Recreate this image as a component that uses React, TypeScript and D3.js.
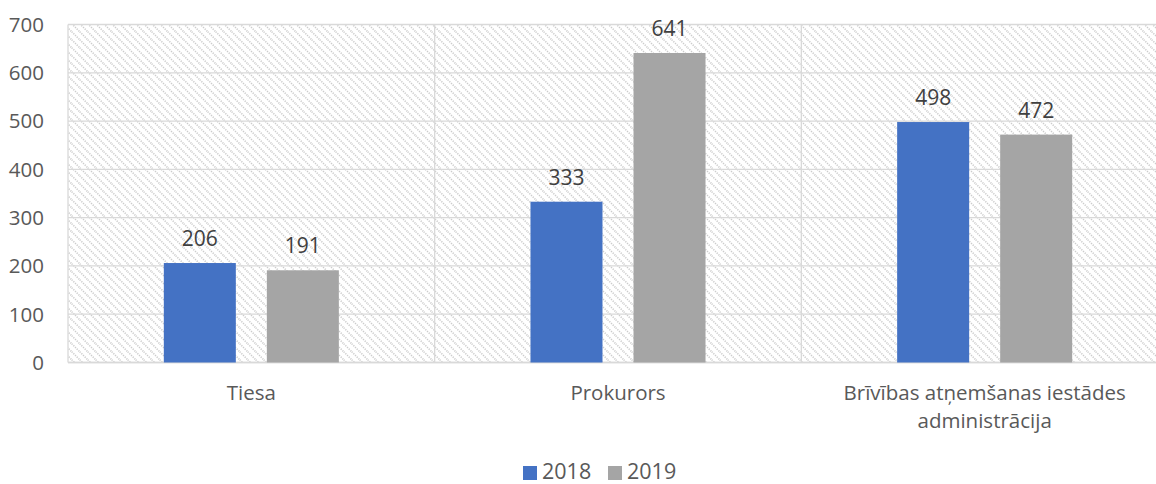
import React from "react";
import * as d3 from "d3";

const categories: string[][] = [["Tiesa"], ["Prokurors"], ["Brīvības atņemšanas iestādes", "administrācija"]];
const categoryKeys = ["Tiesa", "Prokurors", "Brīvības"];
const seriesNames = ["2018", "2019"];
const values2018 = [206, 333, 498];
const values2019 = [191, 641, 472];
const colors = ["#4472c4", "#a5a5a5"];
const yTicks = [0, 100, 200, 300, 400, 500, 600, 700];

const W = 1156, H = 484;
const left = 68, right = 1168, top = 24.5, bottom = 362.5;
const font = "'Open Sans', 'Liberation Sans', sans-serif";
const textColor = "#595959";

export default function App() {
  const x = d3.scaleBand<string>().domain(categoryKeys).range([left, right]).padding(0);
  const xi = d3.scaleBand<string>().domain(seriesNames).range([0, x.bandwidth()]).paddingInner(0.301).paddingOuter(0.93);
  const y = d3.scaleLinear().domain([0, 700]).range([bottom, top]);
  const series = [values2018, values2019];
  return (
    <svg width={W} height={H} style={{ position: "absolute", left: 0, top: 0 }}>
      <defs>
        <pattern id="hatch" patternUnits="userSpaceOnUse" width={8} height={8}>
          <rect width={8} height={8} fill="#ffffff" />
          <path d="M-2,-2 L10,10 M-2,6 L2,10 M6,-2 L10,2" stroke="#cbcbcb" strokeWidth={1.6} strokeDasharray="1.2,1.2" />
        </pattern>
      </defs>
      <rect x={left} y={top} width={right - left} height={bottom - top} fill="url(#hatch)" />
      {yTicks.map(t => (
        <line key={t} x1={left} x2={right} y1={y(t)} y2={y(t)} stroke="#d9d9d9" strokeWidth={1.3} />
      ))}
      {categoryKeys.map((c) => (
        <line key={c} x1={x(c)!} x2={x(c)!} y1={top} y2={bottom} stroke="#d9d9d9" strokeWidth={1.3} />
      ))}
      <line x1={left} x2={right} y1={bottom} y2={bottom} stroke="#d9d9d9" strokeWidth={1.5} />
      {yTicks.map(t => (
        <text key={t} x={44} y={y(t)} dy="0.36em" textAnchor="end" fontFamily={font} fontSize={20.5} fill={textColor}>{t}</text>
      ))}
      {categoryKeys.map((c, ci) =>
        seriesNames.map((s, si) => {
          const v = series[si][ci];
          const bx = x(c)! + xi(s)!;
          return (
            <g key={c + s}>
              <rect x={bx} y={y(v)} width={xi.bandwidth()} height={bottom - y(v)} fill={colors[si]} />
              <text x={bx + xi.bandwidth() / 2} y={y(v) - 17} textAnchor="middle" fontFamily={font} fontSize={21} fill="#404040">{v}</text>
            </g>
          );
        })
      )}
      {categoryKeys.map((c, ci) => (
        <text key={c} x={x(c)! + x.bandwidth() / 2} y={400} textAnchor="middle" fontFamily={font} fontSize={20.5} fill={textColor}>
          {categories[ci].map((line, li) => (
            <tspan key={li} x={x(c)! + x.bandwidth() / 2} dy={li === 0 ? 0 : 28}>{line}</tspan>
          ))}
        </text>
      ))}
      <g>
        <rect x={523} y={466} width={14} height={14} fill={colors[0]} />
        <text x={542} y={479} fontFamily={font} fontSize={21.5} fill={textColor}>{seriesNames[0]}</text>
        <rect x={608} y={466} width={14} height={14} fill={colors[1]} />
        <text x={627} y={479} fontFamily={font} fontSize={21.5} fill={textColor}>{seriesNames[1]}</text>
      </g>
    </svg>
  );
}
